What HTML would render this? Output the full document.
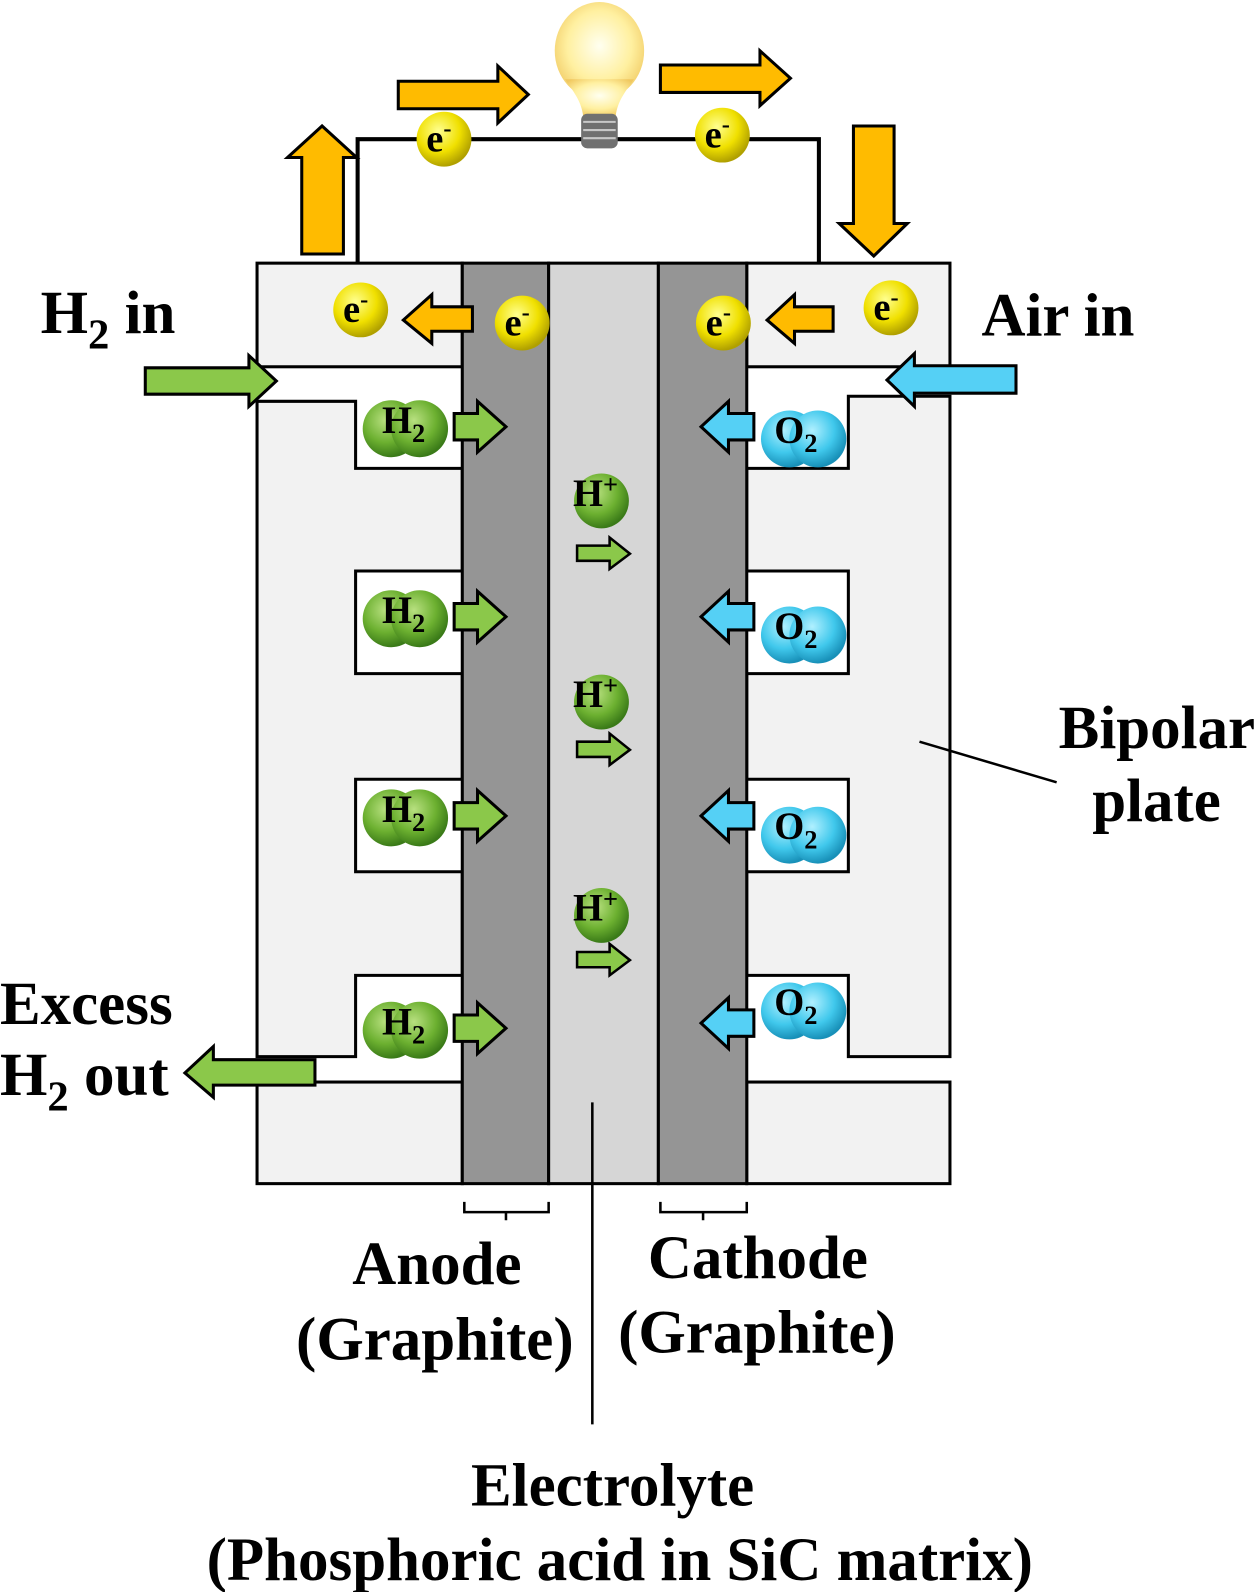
<!DOCTYPE html>
<html><head><meta charset="utf-8"><style>
html,body{margin:0;padding:0;background:#fff;}
svg{display:block;}
text{font-family:"Liberation Serif",serif;font-weight:bold;fill:#000;}
</style></head><body>
<svg width="1260" height="1592" viewBox="0 0 1260 1592" xmlns="http://www.w3.org/2000/svg">
<defs>
<radialGradient id="ye" cx="0.4" cy="0.35" r="0.65"><stop offset="0" stop-color="#ffff90"/><stop offset="0.6" stop-color="#f0e000"/><stop offset="1" stop-color="#b0a000"/></radialGradient>
<radialGradient id="gr" cx="0.4" cy="0.35" r="0.65"><stop offset="0" stop-color="#b8e080"/><stop offset="0.6" stop-color="#6cb030"/><stop offset="1" stop-color="#3a7a18"/></radialGradient>
<radialGradient id="bl" cx="0.4" cy="0.35" r="0.65"><stop offset="0" stop-color="#b0f0ff"/><stop offset="0.6" stop-color="#40c8ec"/><stop offset="1" stop-color="#1890b8"/></radialGradient>
<radialGradient id="bulb" cx="0.5" cy="0.45" r="0.6"><stop offset="0" stop-color="#fffff0"/><stop offset="0.6" stop-color="#fff0a0"/><stop offset="1" stop-color="#f0c860"/></radialGradient>
</defs>
<g transform="scale(1.016)">
<g stroke="#000" stroke-width="3">
<rect x="253" y="259" width="202" height="102" fill="#f2f2f2"/>
<polygon points="253,395 350,395 350,461 455,461 455,562 350,562 350,663 455,663 455,767 350,767 350,858 455,858 455,960 350,960 350,1040 253,1040" fill="#f2f2f2"/>
<rect x="253" y="1065" width="202" height="100" fill="#f2f2f2"/>
<rect x="735" y="259" width="200" height="102" fill="#f2f2f2"/>
<polygon points="935,390 835,390 835,461 735,461 735,562 835,562 835,663 735,663 735,767 835,767 835,858 735,858 735,960 835,960 835,1040 935,1040" fill="#f2f2f2"/>
<rect x="735" y="1065" width="200" height="100" fill="#f2f2f2"/>
<rect x="455" y="259" width="85" height="906" fill="#959595"/>
<rect x="540" y="259" width="108" height="906" fill="#d6d6d6"/>
<rect x="648" y="259" width="87" height="906" fill="#959595"/>
<polyline points="352,259 352,137 806,137 806,259" fill="none" stroke-width="4"/>
<line x1="583" y1="1085" x2="583" y2="1402" stroke-width="2.5"/>
<line x1="905" y1="730" x2="1040" y2="770" stroke-width="2.5"/>
<path d="M457,1183 v10 h83 v-10 M498,1193 v8 M650,1183 v10 h85 v-10 M692,1193 v8" fill="none" stroke-width="2.5"/>
</g>
<ellipse cx="590" cy="50" rx="44" ry="48" fill="url(#bulb)"/>
<path d="M556,78 C566,92 572,100 574,114 L606,114 C608,100 614,92 624,78 Z" fill="url(#bulb)"/>
<rect x="572" y="112" width="36" height="34" rx="6" fill="#707070"/>
<g stroke="#c8c8c8" stroke-width="2"><line x1="574" y1="120" x2="606" y2="120"/><line x1="574" y1="128" x2="606" y2="128"/><line x1="574" y1="136" x2="606" y2="136"/></g>
<g fill="#ffbb00" stroke="#000" stroke-width="3">
<polygon points="392,80 490,80 490,65 520,93 490,121 490,107 392,107"/>
<polygon points="650,64 748,64 748,50 778,77 748,104 748,91 650,91"/>
<polygon points="297,250 297,155 283,155 317,124 351,155 338,155 338,250"/>
<polygon points="840,124 880,124 880,220 893,220 860,252 826,220 840,220"/>
<polygon points="465,302 425,302 425,290 397,315 425,338 425,326 465,326"/>
<polygon points="820,302 782,302 782,290 755,315 782,338 782,326 820,326"/>
</g>
<g fill="#8bc84a" stroke="#000" stroke-width="3">
<polygon points="143,362 245,362 245,350 272,375 245,400 245,388 143,388"/>
<polygon points="310,1043 210,1043 210,1030 182,1056 210,1080 210,1068 310,1068"/>
<g id="ga"><polygon points="447,407 470,407 470,395 498,420 470,445 470,433 447,433"/></g>
<use href="#ga" y="187"/><use href="#ga" y="383"/><use href="#ga" y="592"/>
<g id="ha" stroke-width="2.5"><polygon points="568,537 600,537 600,529 620,545 600,560 600,552 568,552"/></g>
<use href="#ha" y="193"/><use href="#ha" y="400"/>
</g>
<g fill="#55d0f5" stroke="#000" stroke-width="3">
<polygon points="1000,360 900,360 900,348 873,374 900,400 900,387 1000,387"/>
<g id="ba"><polygon points="742,407 717,407 717,395 690,420 717,445 717,433 742,433"/></g>
<use href="#ba" y="187"/><use href="#ba" y="383"/><use href="#ba" y="587"/>
</g>
<g fill="url(#ye)">
<circle cx="437" cy="137" r="27"/><circle cx="711" cy="133" r="27"/>
<circle cx="355" cy="305" r="27"/><circle cx="514" cy="318" r="27"/>
<circle cx="712" cy="318" r="27"/><circle cx="877" cy="303" r="27"/>
</g>
<g font-size="38" text-anchor="middle">
<text x="432" y="149">e<tspan font-size="24" dy="-15">-</tspan></text>
<text x="706" y="145">e<tspan font-size="24" dy="-15">-</tspan></text>
<text x="350" y="317">e<tspan font-size="24" dy="-15">-</tspan></text>
<text x="509" y="330">e<tspan font-size="24" dy="-15">-</tspan></text>
<text x="707" y="330">e<tspan font-size="24" dy="-15">-</tspan></text>
<text x="872" y="315">e<tspan font-size="24" dy="-15">-</tspan></text>
</g>
<g id="h2m"><circle cx="385" cy="422" r="28" fill="url(#gr)"/><circle cx="413" cy="422" r="28" fill="url(#gr)"/>
<text x="376" y="426" font-size="38">H<tspan font-size="26" dy="9">2</tspan></text></g>
<use href="#h2m" y="187"/><use href="#h2m" y="383"/><use href="#h2m" y="592"/>
<g id="o2m"><circle cx="777" cy="432" r="28" fill="url(#bl)"/><circle cx="805" cy="432" r="28" fill="url(#bl)"/>
<text x="762" y="436" font-size="38">O<tspan font-size="26" dy="9">2</tspan></text></g>
<use href="#o2m" y="193"/><use href="#o2m" y="390"/><use href="#o2m" y="563"/>
<g id="hp"><circle cx="592" cy="493" r="27" fill="url(#gr)"/>
<text x="564" y="498" font-size="38">H<tspan font-size="26" dy="-13">+</tspan></text></g>
<use href="#hp" y="198"/><use href="#hp" y="408"/>
<g font-size="60">
<text x="40" y="328">H<tspan font-size="42" dy="15">2</tspan><tspan dy="-15"> in</tspan></text>
<text x="966" y="330">Air in</text>
<text x="1042" y="736">Bipolar</text>
<text x="1075" y="808">plate</text>
<text x="0" y="1008">Excess</text>
<text x="0" y="1078">H<tspan font-size="42" dy="15">2</tspan><tspan dy="-15"> out</tspan></text>
<text x="430" y="1264" text-anchor="middle">Anode</text>
<text x="428" y="1338" text-anchor="middle">(Graphite)</text>
<text x="746" y="1258" text-anchor="middle">Cathode</text>
<text x="745" y="1331" text-anchor="middle">(Graphite)</text>
<text x="603" y="1482" text-anchor="middle">Electrolyte</text>
<text x="610" y="1555" text-anchor="middle">(Phosphoric acid in SiC matrix)</text>
</g>
</g>
</svg>
</body></html>
